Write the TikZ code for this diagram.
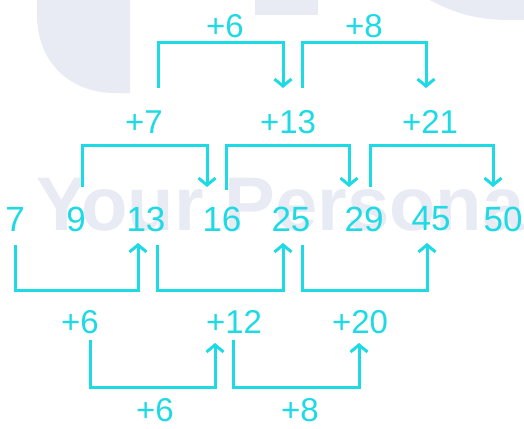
\documentclass[tikz,border=0pt]{standalone}
\usepackage{fontspec}
\setmainfont{Liberation Sans}
\usetikzlibrary{arrows.meta}
\definecolor{cy}{RGB}{30,218,228}
\definecolor{wm}{RGB}{232,235,244}
\tikzset{
  conn/.style={draw=cy, line width=3pt},
  arr/.style={conn, -{Straight Barb[length=7pt,width=17pt]}},
  num/.style={text=cy, inner sep=0pt, font=\fontsize{35}{35}\selectfont},
  lbl/.style={text=cy, inner sep=0pt, font=\fontsize{33}{33}\selectfont},
  wmark/.style={text=wm, inner sep=0pt, font=\bfseries\fontsize{76}{76}\selectfont},
}
\begin{document}
\begin{tikzpicture}[x=1pt,y=-1pt]
\useasboundingbox[fill=white] (0,0) rectangle (524,428);
% watermark background
\fill[wm] (37,0) -- (37,15) .. controls (37,62) and (70,93) .. (115,93) -- (130,93) -- (130,0) -- cycle;
\fill[wm] (255,0) rectangle (318,15);
\fill[wm] (430,0) .. controls (455,14) and (480,20) .. (510,20) -- (524,20) -- (524,0) -- cycle;
\node[wmark, anchor=base west] (wmt) at (36,230) {Your Personal};

% numbers
\node[num] (n7)  at (15,219) {7};
\node[num] (n9)  at (76,219) {9};
\node[num] (n13) at (146,219) {13};
\node[num] (n16) at (222,219) {16};
\node[num] (n25) at (291,219) {25};
\node[num] (n29) at (364,219) {29};
\node[num] (n45) at (431,219) {45};
\node[num] (n50) at (503,219) {50};

% labels
\node[lbl] (t6) at (225,26) {+6};
\node[lbl] (t8) at (364,26) {+8};
\node[lbl] (d7) at (144,122) {+7};
\node[lbl] (d13) at (288,122) {+13};
\node[lbl] (d21) at (430,122) {+21};
\node[lbl] (u6) at (80,322) {+6};
\node[lbl] (u12) at (234,322) {+12};
\node[lbl] (u20) at (360,322) {+20};
\node[lbl] (b6) at (155,410) {+6};
\node[lbl] (b8) at (300,410) {+8};

% bracket coordinates
\coordinate (hTop) at (0,43);
\coordinate (hMid) at (0,145);
\coordinate (hLow) at (0,290);
\coordinate (hBot) at (0,387);

\coordinate (As) at (158,88);  \coordinate (Ae) at (283,88);
\coordinate (Bs) at (302,88);  \coordinate (Be) at (426,88);
\coordinate (Cs) at (82,187);  \coordinate (Ce) at (207,187);
\coordinate (Ds) at (226,190); \coordinate (De) at (349,187);
\coordinate (Es) at (370,187); \coordinate (Ee) at (493,187);
\coordinate (Fs) at (15,245);  \coordinate (Fe) at (138,243);
\coordinate (Gs) at (157,245); \coordinate (Ge) at (283,243);
\coordinate (Hs) at (302,245); \coordinate (He) at (427,243);
\coordinate (Is) at (90,340);  \coordinate (Ie) at (215,343);
\coordinate (Js) at (233,340); \coordinate (Je) at (359,343);

\draw[arr] (As) -- (As |- hTop) -- (Ae |- hTop) -- (Ae);
\draw[arr] (Bs) -- (Bs |- hTop) -- (Be |- hTop) -- (Be);
\draw[arr] (Cs) -- (Cs |- hMid) -- (Ce |- hMid) -- (Ce);
\draw[arr] (Ds) -- (Ds |- hMid) -- (De |- hMid) -- (De);
\draw[arr] (Es) -- (Es |- hMid) -- (Ee |- hMid) -- (Ee);
\draw[arr] (Fs) -- (Fs |- hLow) -- (Fe |- hLow) -- (Fe);
\draw[arr] (Gs) -- (Gs |- hLow) -- (Ge |- hLow) -- (Ge);
\draw[arr] (Hs) -- (Hs |- hLow) -- (He |- hLow) -- (He);
\draw[arr] (Is) -- (Is |- hBot) -- (Ie |- hBot) -- (Ie);
\draw[arr] (Js) -- (Js |- hBot) -- (Je |- hBot) -- (Je);
\end{tikzpicture}
\end{document}
